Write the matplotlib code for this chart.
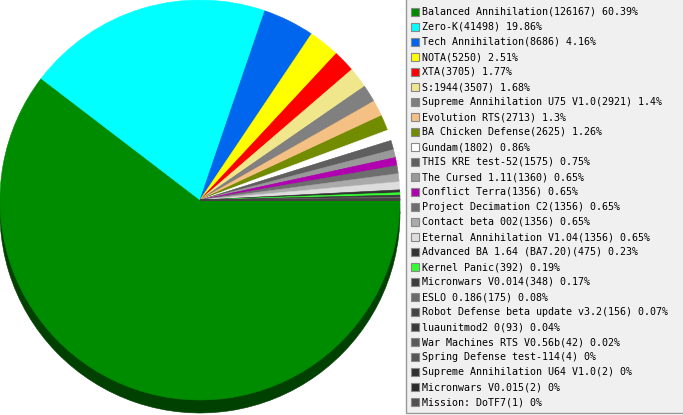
import matplotlib
matplotlib.use("Agg")
import matplotlib.pyplot as plt
from matplotlib.patches import Rectangle
from matplotlib.colors import to_rgb

names = ["Balanced Annihilation", "Zero-K", "Tech Annihilation", "NOTA", "XTA",
         "S:1944", "Supreme Annihilation U75 V1.0", "Evolution RTS", "BA Chicken Defense",
         "Gundam", "THIS KRE test-52", "The Cursed 1.11", "Conflict Terra",
         "Project Decimation C2", "Contact beta 002", "Eternal Annihilation V1.04",
         "Advanced BA 1.64 (BA7.20)", "Kernel Panic", "Micronwars V0.014", "ESLO 0.186",
         "Robot Defense beta update v3.2", "luaunitmod2 0", "War Machines RTS V0.56b",
         "Spring Defense test-114", "Supreme Annihilation U64 V1.0", "Micronwars V0.015",
         "Mission: DoTF7"]
counts = [126167, 41498, 8686, 5250, 3705, 3507, 2921, 2713, 2625, 1802, 1575, 1360,
          1356, 1356, 1356, 1356, 475, 392, 348, 175, 156, 93, 42, 4, 2, 2, 1]
percents = ["60.39", "19.86", "4.16", "2.51", "1.77", "1.68", "1.4", "1.3", "1.26",
            "0.86", "0.75", "0.65", "0.65", "0.65", "0.65", "0.65", "0.23", "0.19",
            "0.17", "0.08", "0.07", "0.04", "0.02", "0", "0", "0", "0"]
colors = ["#008c00", "#00ffff", "#0066ee", "#ffff00", "#ff0000", "#f0e68c", "#808080",
          "#f5c084", "#728c00", "#ffffff", "#5f5f5f", "#999999", "#b000b0", "#6e6e6e",
          "#aaaaaa", "#dddddd", "#333333", "#33ff33", "#3c3c3c", "#6a6a6a", "#454545",
          "#3a3a3a", "#5a5a5a", "#555555", "#303030", "#2a2a2a", "#505050"]

W, H = 683, 415
fig = plt.figure(figsize=(W / 100, H / 100), dpi=100)
ax = fig.add_axes([0, 0, 1, 1])

cx, cy, r, depth = 200, H - 200, 200, 13
dark = [tuple(c * 0.46 for c in to_rgb(col)) for col in colors]

# 3D rim
rim, _ = ax.pie(counts, colors=dark, startangle=0, counterclock=False, radius=r,
                center=(cx, cy - depth), wedgeprops=dict(linewidth=0.4))
# top face
top, _ = ax.pie(counts, colors=colors, startangle=0, counterclock=False, radius=r,
                center=(cx, cy), wedgeprops=dict(linewidth=0.4))
for w in list(rim) + list(top):
    w.set_edgecolor(w.get_facecolor())

ax.set_xlim(0, W)
ax.set_ylim(0, H)
ax.set_aspect("auto")
ax.axis("off")

# legend box
ax.add_patch(Rectangle((406, H - 413), 300, 420, facecolor="#f0f0f0",
                       edgecolor="#999999", linewidth=1, zorder=5))
for i, (n, c, p, col) in enumerate(zip(names, counts, percents, colors)):
    yc = 12 + 15 * i
    ax.add_patch(Rectangle((411, H - yc - 4), 8, 8, facecolor=col,
                           edgecolor="#888888", linewidth=0.8, zorder=6))
    ax.text(422, H - yc, f"{n}({c}) {p}%", fontsize=7.2, family="DejaVu Sans Mono",
            va="center", ha="left", color="#000000", zorder=7)

fig.savefig("out.png", dpi=100)
